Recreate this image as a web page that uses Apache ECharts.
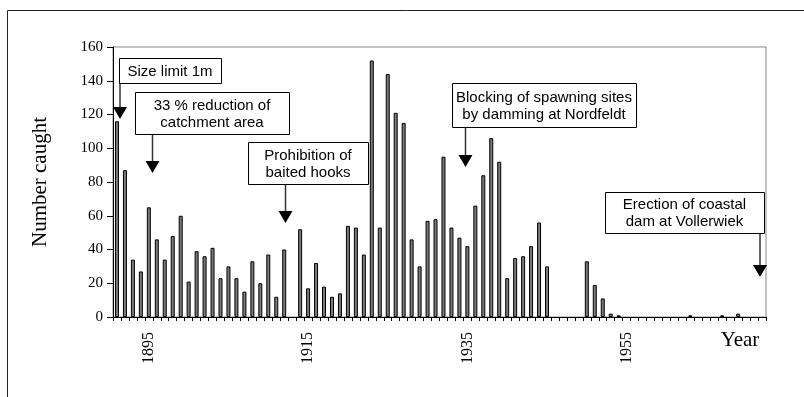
<!DOCTYPE html>
<html>
<head>
<meta charset="utf-8">
<script src="https://cdn.jsdelivr.net/npm/echarts@6/dist/echarts.min.js"></script>
<style>
  html, body { margin: 0; padding: 0; background: #fff; }
  #chart { width: 804px; height: 397px; }
</style>
</head>
<body>
<div id="chart"></div>
<script>
// catch per year, 1891 - 1972 (0 = no catch recorded)
const firstYear = 1891
const catches = [
  116, 87, 34, 27, 65, 46, 34, 48, 60, 21,
  39, 36, 41, 23, 30, 23, 15, 33, 20, 37,
  12, 40, 0, 52, 17, 32, 18, 12, 14, 54,
  53, 37, 152, 53, 144, 121, 115, 46, 30, 57,
  58, 95, 53, 47, 42, 66, 84, 106, 92, 23,
  35, 36, 42, 56, 30, 0, 0, 0, 0, 33,
  19, 11, 2, 1, 0, 0, 0, 0, 0, 0,
  0, 0, 1, 0, 0, 0, 1, 0, 2, 0,
  0, 0,
]
const years = catches.map((_, i) => String(firstYear + i))
const yearLabels = ['1895', '1915', '1935', '1955']

const yTicks = { min: 0, max: 160, interval: 20 }

// annotation boxes: [x, y, w, h, text, arrowX, arrowTipY]
const notes = [
  [119, 58, 102, 25, 'Size limit 1m', 120, 119],
  [135, 92, 154, 42, '33 % reduction of\ncatchment area', 152.5, 173],
  [248, 142, 120, 42, 'Prohibition of\nbaited hooks', 285.5, 223],
  [452, 83, 184, 44, 'Blocking of spawning sites\nby damming at Nordfeldt', 465.5, 167],
  [605, 192, 159, 41, 'Erection of coastal\ndam at Vollerwiek', 760, 277],
]

const serif = '"Liberation Serif", "Times New Roman", serif'
const sans = '"Liberation Sans", Arial, sans-serif'

function noteGraphic([x, y, w, h, text, ax, tipY]) {
  const headH = 12
  const headW = 14
  return {
    type: 'group',
    children: [
      {
        type: 'line',
        shape: { x1: ax, y1: y + h, x2: ax, y2: tipY - headH + 1 },
        style: { stroke: '#333', lineWidth: 1.5 },
      },
      {
        type: 'polygon',
        shape: { points: [[ax - headW / 2, tipY - headH], [ax + headW / 2, tipY - headH], [ax, tipY]] },
        style: { fill: '#000' },
      },
      {
        type: 'rect',
        shape: { x: x + 0.5, y: y + 0.5, width: w, height: h },
        style: { fill: '#fff', stroke: '#000', lineWidth: 1 },
      },
      {
        type: 'text',
        x: x + w / 2,
        y: y + h / 2 + 1,
        style: {
          text: text,
          fill: '#000',
          font: '15px ' + sans,
          align: 'center',
          verticalAlign: 'middle',
          lineHeight: 17,
        },
      },
    ],
  }
}

const chart = echarts.init(document.getElementById('chart'), null, { renderer: 'canvas' })

chart.setOption({
  animation: false,
  backgroundColor: '#fff',
  grid: {
    left: 113,
    right: 38,
    top: 47,
    bottom: 80,
    show: true,
    borderColor: '#888',
    borderWidth: 1,
  },
  xAxis: {
    type: 'category',
    data: years,
    boundaryGap: true,
    axisLine: { lineStyle: { color: '#000', width: 1 } },
    axisTick: {
      show: true,
      interval: 0,
      length: 4,
      lineStyle: { color: '#000' },
    },
    axisLabel: {
      interval: 0,
      rotate: 90,
      margin: 15,
      color: '#000',
      fontFamily: serif,
      fontSize: 16,
      formatter: (v) => (yearLabels.includes(v) ? v : ''),
    },
  },
  yAxis: {
    type: 'value',
    min: yTicks.min,
    max: yTicks.max,
    interval: yTicks.interval,
    name: 'Number caught',
    nameLocation: 'middle',
    nameGap: 62,
    nameTextStyle: { color: '#000', fontFamily: serif, fontSize: 21 },
    axisLine: { show: true, lineStyle: { color: '#000', width: 1 } },
    axisTick: { show: true, length: 6, lineStyle: { color: '#000' } },
    axisLabel: { color: '#000', fontFamily: serif, fontSize: 15, margin: 10 },
    splitLine: { show: false },
  },
  series: [
    {
      type: 'bar',
      // empty years get no bar at all, as in the original
      data: catches.map((v) => (v === 0 ? null : v)),
      barWidth: 4,
      itemStyle: { color: '#7a7a7a', borderColor: '#000', borderWidth: 1 },
    },
  ],
  graphic: [
    {
      type: 'rect',
      silent: true,
      shape: { x: 7.5, y: 10.5, width: 820, height: 420 },
      style: { fill: 'none', stroke: '#222', lineWidth: 1 },
    },
    {
      type: 'text',
      x: 740,
      y: 340,
      style: {
        text: 'Year',
        fill: '#000',
        font: '21px ' + serif,
        align: 'center',
        verticalAlign: 'middle',
      },
    },
    ...notes.map(noteGraphic),
  ],
})
</script>
</body>
</html>
